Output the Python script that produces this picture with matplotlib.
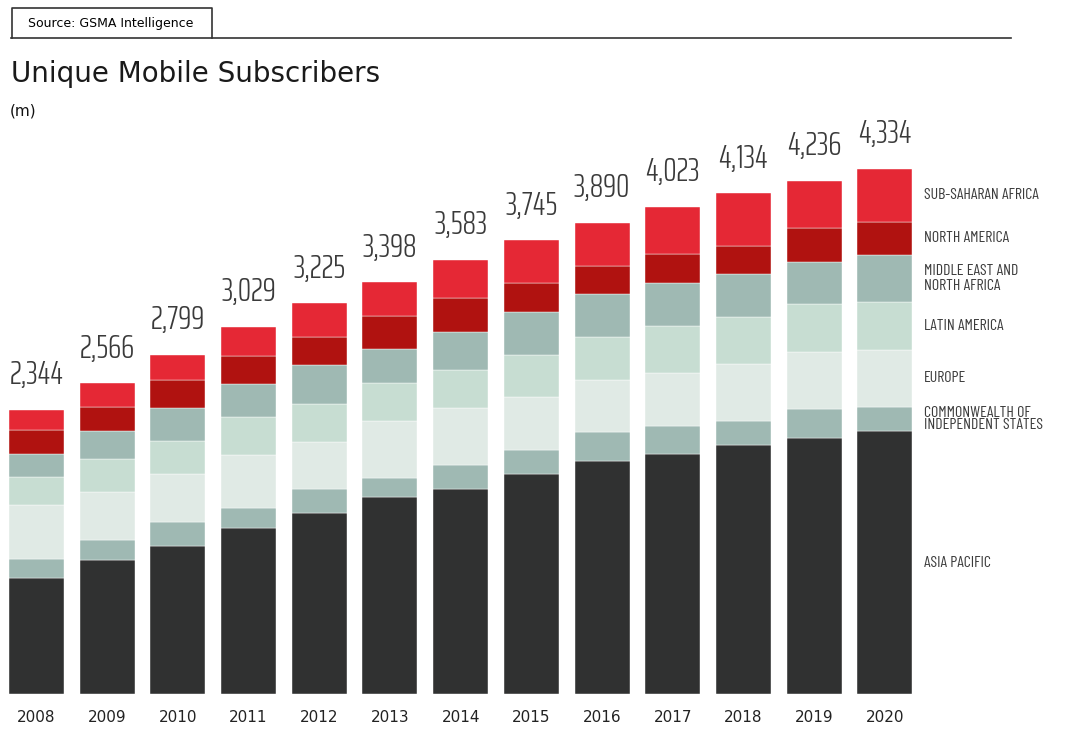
import matplotlib
matplotlib.use('Agg')
import matplotlib.pyplot as plt
import numpy as np

# data (millions)
years = ['2008', '2009', '2010', '2011', '2012', '2013', '2014',
         '2015', '2016', '2017', '2018', '2019', '2020']
totals = [2344, 2566, 2799, 3029, 3225, 3398, 3583, 3745, 3890, 4023, 4134, 4236, 4334]

asia_pacific = [963, 1112, 1224, 1376, 1493, 1630, 1696, 1820, 1926, 1980, 2053, 2117, 2172]
cis = [157, 157, 198, 157, 198, 157, 196, 195, 235, 236, 198, 235, 198]
europe = [438, 396, 396, 438, 394, 471, 473, 435, 434, 438, 471, 473, 474]
latin_america = [232, 273, 273, 314, 314, 314, 314, 353, 353, 388, 394, 391, 391]
mena = [196, 237, 275, 273, 314, 275, 314, 352, 355, 353, 353, 353, 391]
north_america = [198, 195, 231, 237, 237, 276, 276, 235, 234, 237, 231, 275, 273]
sub_saharan = [160, 196, 202, 234, 275, 275, 314, 355, 353, 391, 434, 392, 435]

regions = ['ASIA PACIFIC', 'COMMONWEALTH OF\nINDEPENDENT STATES', 'EUROPE',
           'LATIN AMERICA', 'MIDDLE EAST AND\nNORTH AFRICA', 'NORTH AMERICA',
           'SUB-SAHARAN AFRICA']
series = [asia_pacific, cis, europe, latin_america, mena, north_america, sub_saharan]
colors = ['#303131', '#9fb9b3', '#e0eae5', '#c7ddd2', '#9fb9b3', '#b01210', '#e52835']

num_font = ['Saira ExtraCondensed', 'DejaVu Sans']
label_font = ['Barlow Condensed', 'DejaVu Sans']
body_font = 'DejaVu Sans'

fig = plt.figure(figsize=(10.76, 7.42), dpi=100)
ax = fig.add_axes([0.00108, 0.06429, 0.85405, 0.78477])

x = np.arange(len(years))
bottom = np.zeros(len(years))
for name, vals, col in zip(regions, series, colors):
    vals = np.array(vals, dtype=float)
    ax.bar(x, vals, 0.778, bottom=bottom, color=col, edgecolor='white', linewidth=0.3)
    # region label next to the last bar
    ax.text(12.555, bottom[-1] + vals[-1] / 2, name, ha='left', va='center',
            fontsize=11.5, color='#3c3c3c', family=label_font,
            linespacing=0.8 if name.startswith('COMMON') else 1.05)
    bottom += vals

for xi, t in zip(x, totals):
    ax.annotate('{:,}'.format(t), (xi, bottom[xi]), xytext=(0, 18.5),
                textcoords='offset points', ha='center', va='baseline',
                fontsize=24, color='#3a3a3a', family=num_font, fontweight=300)

ax.set_xlim(-0.5, 12.5)
ax.set_ylim(0, 4804)
ax.set_xticks(x)
ax.set_xticklabels(years, fontsize=11, color='#222222', family=body_font)
ax.tick_params(axis='x', length=0, pad=11.3)
ax.set_yticks([])
for s in ax.spines.values():
    s.set_visible(False)

# header: source box and rule
fig.add_artist(plt.Line2D([11 / 1076, 1011 / 1076], [1 - 38 / 742] * 2,
                          color='#333333', lw=1.2))
fig.add_artist(plt.Line2D([11.5 / 1076, 11.5 / 1076, 211.5 / 1076, 211.5 / 1076],
                          [1 - 38 / 742, 1 - 8 / 742, 1 - 8 / 742, 1 - 38 / 742],
                          color='#333333', lw=1.2))
fig.text(111 / 1076, 1 - 23 / 742, 'Source: GSMA Intelligence', ha='center', va='center',
         fontsize=9, color='#000000', family=body_font)

fig.text(11 / 1076, 1 - 82 / 742, 'Unique Mobile Subscribers', ha='left', va='baseline',
         fontsize=20, color='#1a1a1a', family=body_font)
fig.text(10 / 1076, 1 - 111 / 742, '(m)', ha='left', va='center',
         fontsize=11, color='#111111', family=body_font)

fig.savefig('out.png', dpi=100, facecolor='white')
